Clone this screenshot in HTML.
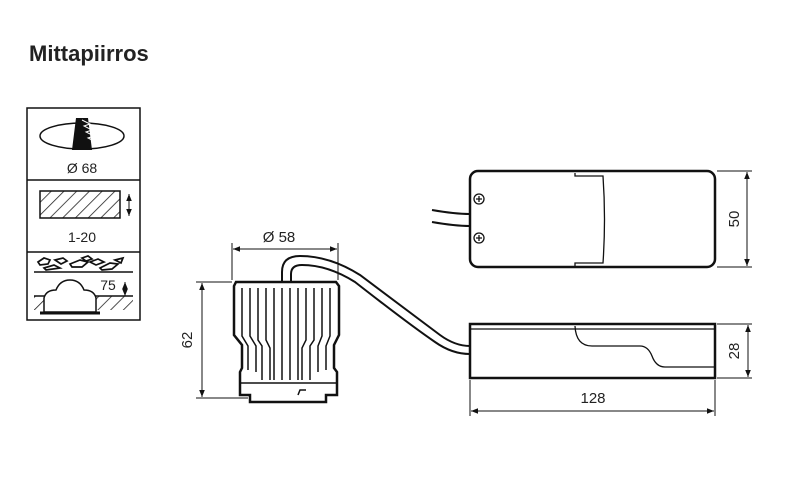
<!DOCTYPE html>
<html><head><meta charset="utf-8"><style>
html,body{margin:0;padding:0;background:#fff;width:800px;height:496px;overflow:hidden}
text{font-family:"Liberation Sans",sans-serif;fill:#222}
</style></head><body>
<svg width="800" height="496" viewBox="0 0 800 496" xmlns="http://www.w3.org/2000/svg">
<defs>
<marker id="a" viewBox="0 0 10 10" refX="10" refY="5" markerWidth="9" markerHeight="7" orient="auto-start-reverse"><path d="M0,1 L10,5 L0,9 z" fill="#111"/></marker>
<pattern id="h" width="9" height="9" patternUnits="userSpaceOnUse" patternTransform="rotate(45)"><line x1="0" y1="0" x2="0" y2="9" stroke="#222" stroke-width="1.6"/></pattern>
</defs>
<text x="29" y="61" font-size="22" font-weight="bold" fill="#222">Mittapiirros</text>

<!-- left box -->
<g stroke="#111" fill="none" stroke-width="1.5">
<rect x="27" y="108" width="113" height="212"/>
<line x1="27" y1="180" x2="140" y2="180"/>
<line x1="27" y1="252" x2="140" y2="252"/>
<ellipse cx="82" cy="136" rx="42" ry="13"/>
<rect x="40" y="191" width="80" height="27" fill="url(#h)"/>
<line x1="129" y1="194" x2="129" y2="216" marker-start="url(#a)" marker-end="url(#a)" stroke-width="1"/>
<line x1="34" y1="272" x2="133" y2="272"/>
<line x1="125" y1="282" x2="125" y2="296" marker-start="url(#a)" marker-end="url(#a)" stroke-width="1"/>
<path d="M38,262 l6,-4 6,2 -2,4 -8,1z M55,260 l8,-2 4,3 -6,3z M70,264 l10,-4 8,2 -6,5 -10,0z M44,268 l10,-3 6,3 -14,2z M90,262 l8,-3 6,3 -8,3z M100,268 l10,-5 8,1 -6,5 -10,1z M82,258 l6,-2 4,3 -6,2z M115,260 l8,-2 -2,5z" stroke-width="1.7"/>
<rect x="34" y="296" width="99" height="14" fill="url(#h)" stroke="none"/>
<line x1="34" y1="296" x2="133" y2="296"/>
<path d="M44,312 L44,298 Q46,290 56,290 Q60,280 70,280 Q80,280 84,290 Q94,290 96,298 L96,312 Z" fill="#fff"/>
<line x1="40" y1="313" x2="100" y2="313" stroke-width="3"/>
</g>
<path d="M76,118 L88,118 L92,150 L72,150 Z" fill="#111"/>
<path d="M82,120 l8,4 -6,2 8,4 -6,2 8,4 -6,2 8,4" stroke="#fff" fill="none" stroke-width="1"/>
<text x="82" y="173" font-size="14" text-anchor="middle">Ø 68</text>
<text x="82" y="242" font-size="14" text-anchor="middle">1-20</text>
<text x="108" y="290" font-size="14" text-anchor="middle">75</text>

<!-- lamp -->
<g stroke="#111" fill="none">
<path d="M282,284 L282,272 Q282,256 300,256 Q330,256 360,275 Q420,320 440,335 Q455,346 470,346" stroke-width="2"/>
<path d="M291,284 L291,274 Q291,265 302,265 Q328,265 355,282 Q410,325 435,342 Q452,354 470,354" stroke-width="2"/>
<path d="M236,282 L336,282 L339,286 L339,335 L334,345 L334,368 L337,372 L337,395 L326,395 L326,402 L250,402 L250,395 L240,395 L240,372 L242,368 L242,345 L234,335 L234,286 Z" fill="#fff" stroke-width="2.5"/>
<g stroke-width="1.5">
<path d="M242,288 L242,336 L248,346 L248,370"/><path d="M250,288 L250,336 L256,346 L256,372"/>
<path d="M258,288 L258,340 L262,346 L262,380"/><path d="M266,288 L266,340 L270,348 L270,380"/>
<path d="M274,288 L274,380"/><path d="M282,288 L282,380"/><path d="M290,288 L290,380"/><path d="M298,288 L298,380"/>
<path d="M306,288 L306,340 L302,348 L302,380"/><path d="M314,288 L314,340 L310,346 L310,380"/>
<path d="M322,288 L322,336 L318,346 L318,372"/><path d="M330,288 L330,336 L326,346 L326,370"/>
<line x1="240" y1="383" x2="337" y2="383"/><path d="M298,395 L300,390 L306,390"/>
</g>
<g stroke-width="1">
<line x1="232" y1="280" x2="232" y2="243"/><line x1="338" y1="280" x2="338" y2="243"/>
<line x1="233" y1="249" x2="337" y2="249" marker-start="url(#a)" marker-end="url(#a)"/>
<line x1="196" y1="282" x2="232" y2="282"/><line x1="196" y1="398" x2="248" y2="398"/>
<line x1="202" y1="283" x2="202" y2="397" marker-start="url(#a)" marker-end="url(#a)"/>
</g>
</g>
<text x="279" y="242" font-size="15" text-anchor="middle">Ø 58</text>
<text transform="translate(192,340) rotate(-90)" font-size="15" text-anchor="middle">62</text>

<!-- driver top -->
<g stroke="#111" fill="none">
<path d="M432,210 Q455,214 470,214 M432,222 Q455,226 470,226" stroke-width="2"/>
<rect x="470" y="171" width="245" height="96" rx="8" fill="#fff" stroke-width="2.5"/>
<path d="M575,173 L575,176 L603,176 Q606,219 603,263 L575,263 L575,266" stroke-width="1.3"/>
<circle cx="479" cy="199" r="5" stroke-width="1.3"/><path d="M476,199 h6 M479,196 v6" stroke-width="1.3"/>
<circle cx="479" cy="238" r="5" stroke-width="1.3"/><path d="M476,238 h6 M479,235 v6" stroke-width="1.3"/>
<g stroke-width="1"><line x1="717" y1="171" x2="752" y2="171"/><line x1="717" y1="267" x2="752" y2="267"/>
<line x1="747" y1="172" x2="747" y2="266" marker-start="url(#a)" marker-end="url(#a)"/></g>
<!-- side -->
<rect x="470" y="324" width="245" height="54" fill="#fff" stroke-width="2.5"/>
<line x1="471" y1="329" x2="714" y2="329" stroke-width="1.3"/>
<path d="M575,326 Q576,346 592,346 L640,346 Q648,346 652,356 Q656,367 665,367 L714,367" stroke-width="1.3"/>
<g stroke-width="1"><line x1="717" y1="324" x2="752" y2="324"/><line x1="717" y1="378" x2="752" y2="378"/>
<line x1="748" y1="325" x2="748" y2="377" marker-start="url(#a)" marker-end="url(#a)"/>
<line x1="470" y1="380" x2="470" y2="416"/><line x1="715" y1="380" x2="715" y2="416"/>
<line x1="471" y1="411" x2="714" y2="411" marker-start="url(#a)" marker-end="url(#a)"/></g>
</g>
<text transform="translate(739,219) rotate(-90)" font-size="15" text-anchor="middle">50</text>
<text transform="translate(739,351) rotate(-90)" font-size="15" text-anchor="middle">28</text>
<text x="593" y="403" font-size="15" text-anchor="middle">128</text>
</svg>
</body></html>
